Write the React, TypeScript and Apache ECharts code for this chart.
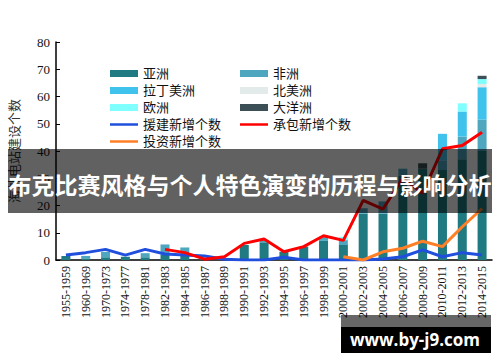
import React, { useEffect, useRef } from "react";
import * as echarts from "echarts";

const categories = [
  "1955-1959", "1960-1969", "1970-1973", "1974-1977", "1978-1981", "1982-1983",
  "1984-1985", "1986-1987", "1988-1989", "1990-1991", "1992-1993", "1994-1995",
  "1996-1997", "1998-1999", "2000-2001", "2002-2003", "2004-2005", "2006-2007",
  "2008-2009", "2010-2011", "2012-2013", "2014-2015",
];

const asia = [1.5, 0.6, 1, 1.2, 1, 2, 1.5, 0.8, 0.5, 5.5, 6.5, 3, 4.9, 7, 5.5, 17, 17, 31, 33.5, 33, 37, 40];
const africa = [0, 0.9, 2, 0, 1.5, 3.7, 3.1, 0, 0, 0, 0.8, 0, 0, 1.5, 1.8, 2, 4.5, 2.5, 0, 3.6, 8.3, 11.5];
const latinAmerica = [0, 0, 0, 0, 0, 0, 0, 0, 0, 0, 0, 0, 0, 0, 0, 0, 0, 0, 0, 9.7, 9.2, 11.9];
const northAmerica = [0, 0, 0, 0, 0, 0, 0, 0, 0, 0, 0, 0, 0, 0, 0, 0, 0, 0, 0, 0, 0, 1.2];
const europe = [0, 0, 0, 0, 0, 0, 0, 0, 0, 0, 0, 0, 0, 0, 1.2, 0, 0, 0, 0, 0, 3, 1.8];
const oceania = [0, 0, 0, 0, 0, 0, 0, 0, 0, 0, 0, 0, 0, 0, 0, 0, 0, 0, 2, 0, 0, 1.2];

const aidNew = [1.8, 2.7, 3.9, 1.8, 3.9, 2.2, 1.8, 1.5, 0.3, 0, 0, 1, 0, 0, 0, 0, 0.4, 1.2, 3.7, 1.2, 2.7, 1.8];
const contractNew = [null, null, null, null, null, 3.9, 2.7, 0.3, 1.2, 6.1, 7.7, 3, 4.9, 8.9, 7.2, 21.9, 18.7, 30, 24.5, 40.8, 42, 46.9];
const investNew = [null, null, null, null, null, null, null, null, null, null, null, null, null, null, 1.2, 0, 3, 4.3, 6.9, 4.9, 12.2, 18.9];

const yTicks = { min: 0, max: 80, interval: 10 };
const yAxisName = "海外电站建设个数";
const bannerText = "布克比赛风格与个人特色演变的历程与影响分析";
const watermarkText = "www.by-j9.com";

const SERIF = "'Liberation Serif', 'DejaVu Serif', 'Noto Sans CJK SC', serif";
const LINE_ICON = "path://M0,0h28v2.5h-28z";

export default function App() {
  const ref = useRef<HTMLDivElement>(null);

  useEffect(() => {
    if (!ref.current) return;
    const chart = echarts.init(ref.current, undefined, { renderer: "svg" });

    const barSeries = [
      { name: "亚洲", data: asia, color: "#1f7a81" },
      { name: "非洲", data: africa, color: "#4ea7bf" },
      { name: "拉丁美洲", data: latinAmerica, color: "#3fc2ec" },
      { name: "北美洲", data: northAmerica, color: "#e2eaea" },
      { name: "欧洲", data: europe, color: "#80ffff" },
      { name: "大洋洲", data: oceania, color: "#3c4f56" },
    ].map((s) => ({
      name: s.name,
      type: "bar",
      stack: "total",
      barWidth: 9,
      data: s.data,
      itemStyle: { color: s.color },
      z: 2,
    }));

    const lineSeries = [
      { name: "援建新增个数", data: aidNew, color: "#1f4fdc" },
      { name: "承包新增个数", data: contractNew, color: "#ff0000" },
      { name: "投资新增个数", data: investNew, color: "#ff7f27" },
    ].map((s) => ({
      name: s.name,
      type: "line",
      data: s.data,
      symbol: "none",
      connectNulls: false,
      itemStyle: { color: s.color },
      lineStyle: { color: s.color, width: 3 },
      z: 3,
    }));

    const legendCommon = {
      orient: "vertical",
      itemWidth: 28,
      itemHeight: 7,
      itemGap: 4,
      textStyle: { fontFamily: SERIF, fontSize: 13, color: "#111", lineHeight: 13 },
    };

    chart.setOption({
      animation: false,
      backgroundColor: "#ffffff",
      grid: { left: 50, right: 8, top: 42, bottom: 102 },
      legend: [
        {
          ...legendCommon,
          left: 105,
          top: 62,
          data: [
            { name: "亚洲", icon: "rect" },
            { name: "拉丁美洲", icon: "rect" },
            { name: "欧洲", icon: "rect" },
            { name: "援建新增个数", icon: LINE_ICON },
            { name: "投资新增个数", icon: LINE_ICON },
          ],
        },
        {
          ...legendCommon,
          left: 235,
          top: 62,
          data: [
            { name: "非洲", icon: "rect" },
            { name: "北美洲", icon: "rect" },
            { name: "大洋洲", icon: "rect" },
            { name: "承包新增个数", icon: LINE_ICON },
          ],
        },
      ],
      xAxis: {
        type: "category",
        data: categories,
        boundaryGap: true,
        axisLine: { lineStyle: { color: "#000", width: 1.5 } },
        axisTick: { inside: true, length: 4, lineStyle: { color: "#000" } },
        axisLabel: {
          rotate: 90,
          interval: 0,
          margin: 6,
          fontFamily: SERIF,
          fontSize: 12,
          color: "#111",
        },
      },
      yAxis: {
        type: "value",
        min: yTicks.min,
        max: yTicks.max,
        interval: yTicks.interval,
        name: yAxisName,
        nameLocation: "middle",
        nameGap: 35,
        nameTextStyle: { fontFamily: SERIF, fontSize: 13, color: "#333" },
        axisLine: { show: true, lineStyle: { color: "#000", width: 1.5 } },
        axisTick: { show: true, inside: true, length: 4, lineStyle: { color: "#000" } },
        axisLabel: { fontFamily: SERIF, fontSize: 13, color: "#111", margin: 6 },
        splitLine: { show: false },
      },
      series: [...barSeries, ...lineSeries],
      graphic: [
        {
          type: "rect",
          z: 100,
          shape: { x: 8, y: 149, width: 484, height: 64 },
          style: { fill: "rgba(0,0,0,0.62)" },
        },
        {
          type: "text",
          z: 101,
          x: 250,
          y: 184,
          style: {
            text: bannerText,
            fill: "#ffffff",
            font: "bold 23px 'Noto Sans CJK SC', sans-serif",
            align: "center",
            verticalAlign: "middle",
          },
        },
        {
          type: "rect",
          z: 100,
          shape: { x: 341, y: 315, width: 150, height: 12 },
          style: { fill: "rgba(0,0,0,0.6)" },
        },
        {
          type: "rect",
          z: 100,
          shape: { x: 341, y: 327, width: 150, height: 26 },
          style: { fill: "#000000" },
        },
        {
          type: "text",
          z: 101,
          x: 415,
          y: 339,
          style: {
            text: watermarkText,
            fill: "#ffffff",
            font: "bold 17px 'Open Sans', 'DejaVu Sans', sans-serif",
            align: "center",
            verticalAlign: "middle",
          },
        },
      ],
    });

    return () => chart.dispose();
  }, []);

  return (
    <div
      ref={ref}
      style={{ position: "fixed", left: 0, top: 0, width: 500, height: 362 }}
    />
  );
}
